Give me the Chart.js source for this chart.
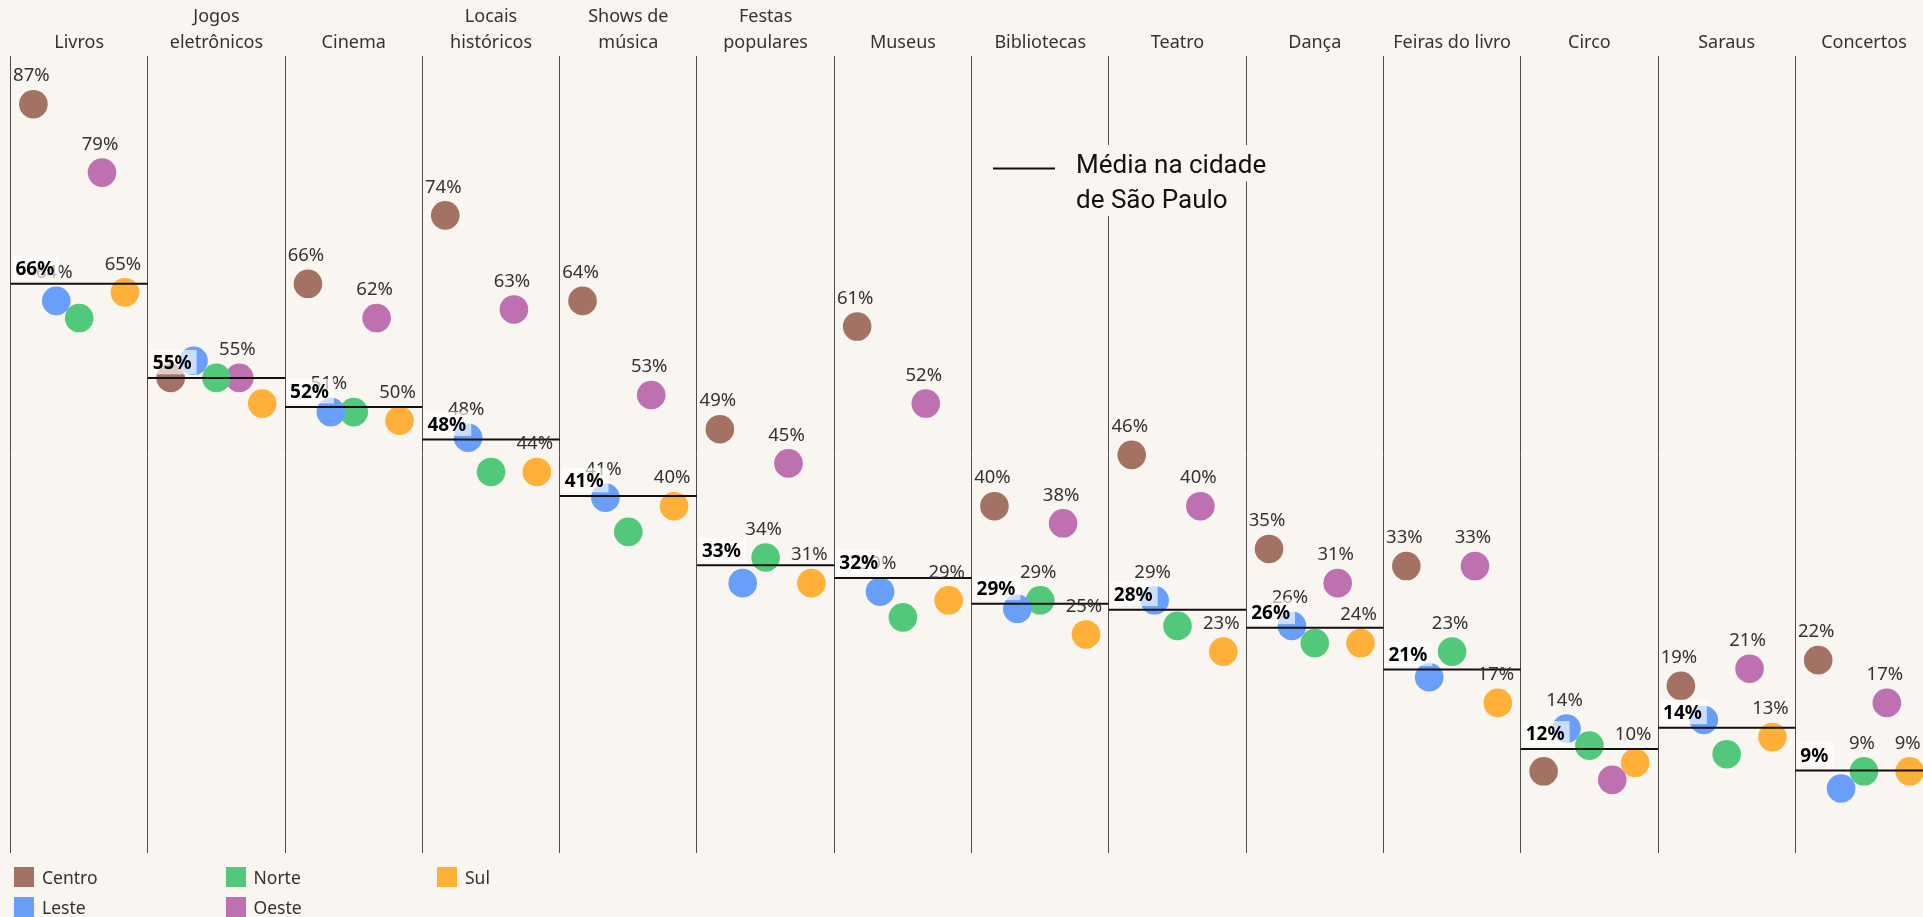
<!DOCTYPE html>
<html lang="pt-BR">
<head>
    <meta charset="UTF-8">
    <title>Práticas culturais por região</title>
    <script src="https://cdn.jsdelivr.net/npm/chart.js"></script>
    <style>
        body {
            margin: 0;
            padding: 0;
            background: #f9f5f1;
            font-family: 'Noto Sans', sans-serif;
        }

        #wrap {
            position: relative;
            width: 1923px;
            height: 917px;
            overflow: hidden;
        }

        #legenda {
            position: absolute;
            left: 14px;
            top: 862px;
            display: grid;
            grid-template-columns: repeat(3, 211.5px);
            grid-template-rows: 30px 30px;
            grid-auto-flow: column;
        }

        .item {
            display: flex;
            align-items: center;
            font-size: 17.5px;
            color: #333;
        }

        .item .cor {
            width: 20px;
            height: 20px;
            margin-right: 8px;
        }
    </style>
</head>
<body>
    <div id="wrap">
        <canvas id="grafico" width="1923" height="917"></canvas>
        <div id="legenda"></div>
    </div>

    <script>
        const categorias = [
            ['Livros'], ['Jogos', 'eletrônicos'], ['Cinema'], ['Locais', 'históricos'],
            ['Shows de', 'música'], ['Festas', 'populares'], ['Museus'], ['Bibliotecas'],
            ['Teatro'], ['Dança'], ['Feiras do livro'], ['Circo'], ['Saraus'], ['Concertos']
        ];
        const regioes = ['Centro', 'Leste', 'Norte', 'Oeste', 'Sul'];
        const cores = ['#a37262', '#679ffb', '#52c97a', '#be70b0', '#ffb038'];

        // % por região, na ordem das categorias
        const centro = [87, 55, 66, 74, 64, 49, 61, 40, 46, 35, 33, 9, 19, 22];
        const leste  = [64, 57, 51, 48, 41, 31, 30, 28, 29, 26, 20, 14, 15, 7];
        const norte  = [62, 55, 51, 44, 37, 34, 27, 29, 26, 24, 23, 12, 11, 9];
        const oeste  = [79, 55, 62, 63, 53, 45, 52, 38, 40, 31, 33, 8, 21, 17];
        const sul    = [65, 52, 50, 44, 40, 31, 29, 25, 23, 24, 17, 10, 13, 9];

        // média na cidade de São Paulo
        const media = [66, 55, 51.6, 47.8, 41.2, 33.1, 31.6, 28.6, 27.9, 25.8, 20.9, 11.6, 14.1, 9.1];

        // pontos que mostram o rótulo de valor (1 = mostra)
        const rotCentro = [1, 0, 1, 1, 1, 1, 1, 1, 1, 1, 1, 0, 1, 1];
        const rotLeste  = [1, 0, 1, 1, 1, 0, 1, 0, 1, 1, 0, 1, 0, 0];
        const rotNorte  = [0, 0, 0, 0, 0, 1, 0, 1, 0, 0, 1, 0, 0, 1];
        const rotOeste  = [1, 1, 1, 1, 1, 1, 1, 1, 1, 1, 1, 0, 1, 1];
        const rotSul    = [1, 0, 1, 1, 1, 1, 1, 1, 1, 1, 1, 1, 1, 1];

        const valores = [centro, leste, norte, oeste, sul];
        const rotulos = [rotCentro, rotLeste, rotNorte, rotOeste, rotSul];
        const FUNDO = '#f9f5f1';

        const datasets = regioes.map((r, i) => ({
            label: r,
            data: valores[i].map((v, c) => ({ x: c + (i + 1) / 6, y: v })),
            backgroundColor: cores[i],
            borderWidth: 0,
            pointRadius: 14.3,
            pointHoverRadius: 14.3,
            order: 1
        }));

        const pontosMedia = [];
        media.forEach((m, c) => {
            pontosMedia.push({ x: c, y: m }, { x: c + 1, y: m }, { x: c + 1, y: null });
        });

        datasets.push({
            type: 'line',
            label: 'Média',
            data: pontosMedia,
            borderColor: '#111',
            borderWidth: 2,
            pointRadius: 0,
            showLine: true,
            spanGaps: false,
            order: 0
        });

        // rótulos dos pontos e da média
        const rotulosPlugin = {
            id: 'rotulos',
            afterDatasetsDraw(chart) {
                const ctx = chart.ctx;
                const xs = chart.scales.x;
                const ys = chart.scales.y;
                ctx.save();
                ctx.font = '18.5px "Noto Sans"';
                ctx.fillStyle = '#333';
                ctx.textAlign = 'center';
                ctx.textBaseline = 'middle';
                regioes.forEach((r, i) => {
                    chart.getDatasetMeta(i).data.forEach((pt, c) => {
                        if (rotulos[i][c]) ctx.fillText(valores[i][c] + '%', pt.x - 2, pt.y - 28);
                    });
                });

                ctx.font = 'bold 19px "Noto Sans"';
                ctx.textAlign = 'left';
                media.forEach((m, c) => {
                    const x0 = xs.getPixelForValue(c);
                    const yl = ys.getPixelForValue(m);
                    const txt = Math.round(m) + '%';
                    const w = ctx.measureText(txt).width;
                    ctx.fillStyle = 'rgba(255,255,255,0.65)';
                    ctx.fillRect(x0 + 2, yl - 28, w + 8, 24.5);
                    ctx.fillStyle = '#000';
                    ctx.fillText(txt, x0 + 5, yl - 14);
                });
                ctx.restore();
            }
        };

        // legenda da linha de média
        const notaPlugin = {
            id: 'nota',
            afterDraw(chart) {
                const ctx = chart.ctx;
                const linhas = ['Média na cidade', 'de São Paulo'];
                const tx = 1076;
                const base = 173;
                ctx.save();
                ctx.font = '26px Roboto';
                linhas.forEach((t, k) => {
                    const w = ctx.measureText(t).width;
                    ctx.fillStyle = FUNDO;
                    ctx.fillRect(tx - 4, base + k * 34.5 - 28, w + 8, 36.5);
                });
                ctx.strokeStyle = '#111';
                ctx.lineWidth = 2;
                ctx.beginPath();
                ctx.moveTo(993, 168.5);
                ctx.lineTo(1055, 168.5);
                ctx.stroke();
                ctx.fillStyle = '#111';
                ctx.textBaseline = 'alphabetic';
                linhas.forEach((t, k) => ctx.fillText(t, tx, base + k * 34.5));
                ctx.restore();
            }
        };

        Chart.defaults.font.family = "'Noto Sans', sans-serif";
        Chart.defaults.color = '#333';

        new Chart(document.getElementById('grafico'), {
            type: 'scatter',
            data: { datasets },
            options: {
                responsive: false,
                animation: false,
                devicePixelRatio: 1,
                events: [],
                layout: {
                    autoPadding: false,
                    padding: { left: 10.5, right: 0, top: 4.5, bottom: 64 }
                },
                plugins: {
                    legend: { display: false },
                    tooltip: { enabled: false }
                },
                scales: {
                    x: {
                        type: 'linear',
                        position: 'top',
                        min: 0,
                        max: 13.93,
                        afterBuildTicks: s => {
                            s.ticks = categorias.map((_, i) => ({ value: i + 0.5 }));
                        },
                        ticks: {
                            autoSkip: false,
                            maxRotation: 0,
                            minRotation: 0,
                            padding: 0,
                            color: '#333',
                            font: { size: 18, lineHeight: 1.42 },
                            callback: v => categorias[Math.floor(v)]
                        },
                        grid: { offset: true, drawTicks: false, color: '#4d4d4d', lineWidth: 1 },
                        border: { display: false }
                    },
                    y: {
                        type: 'linear',
                        display: false,
                        min: -0.55,
                        max: 92.68
                    }
                }
            },
            plugins: [rotulosPlugin, notaPlugin]
        });

        const leg = document.getElementById('legenda');
        regioes.forEach((r, i) => {
            const d = document.createElement('div');
            d.className = 'item';
            d.innerHTML = `<span class="cor" style="background:${cores[i]}"></span>${r}`;
            leg.appendChild(d);
        });
    </script>
</body>
</html>
